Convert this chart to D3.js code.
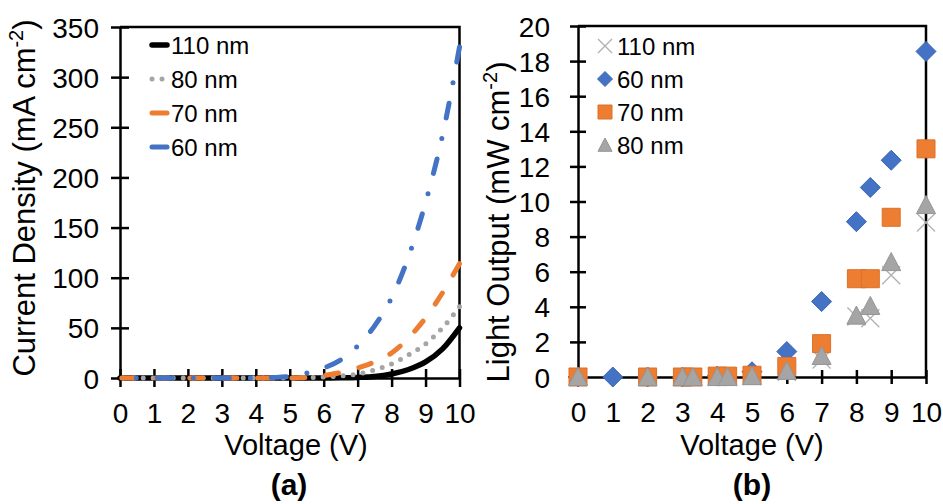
<!DOCTYPE html>
<html><head><meta charset="utf-8">
<script src="https://cdn.jsdelivr.net/npm/d3@7"></script>
<style>
body{margin:0;background:#fff}
svg{display:block}
text{font-family:"Liberation Sans",Arial,sans-serif;fill:#000}
</style>
</head><body>
<svg id="c" width="943" height="504"></svg>
<script>
// ---------- Data: (a) current density vs voltage ----------
const voltageA = [0,0.5,1,1.5,2,2.5,3,3.5,4,4.5,5,5.5,6,6.5,7,7.5,8,8.5,9,9.5,10];
const j110 = [0,0,0,0,0,0,0,0,0,0,0,0,0,0.2,0.6,1.5,4,8.5,16,29,50];
const j80  = [0,0,0,0,0,0,0,0,0,0,0,0.3,1,2,3.8,8,14,23,34,50,71];
const j70  = [0,0,0,0,0,0,0,0,0,0,0,0.5,2.5,5.5,10,16,25,40,60,85,114];
const j60  = [0,0,0,0,0,0,0,0,0.1,0.5,1.5,5,10,18,32,52,80,121,175,242,330];
const seriesNamesA = ["110 nm","80 nm","70 nm","60 nm"];
const xTicksA = [0,1,2,3,4,5,6,7,8,9,10];
const yTicksA = [0,50,100,150,200,250,300,350];

// ---------- Data: (b) light output vs voltage ----------
const v110 = [0,2,3,3.3,4,4.3,5,6,7,8,8.4,9,10];
const l110 = [0,0,0,0,0,0,0.05,0.3,1.0,3.45,3.35,5.8,8.8];
const v60  = [0,1,2,3,4,5,6,7,8,8.4,9,10];
const l60  = [0,0,0,0,0.05,0.3,1.45,4.3,8.85,10.8,12.35,18.55];
const v70  = [0,2,3,3.3,4,4.3,5,6,7,8,8.4,9,10];
const l70  = [0,0,0,0,0.05,0.05,0.1,0.6,1.9,5.6,5.6,9.1,13.0];
const v80  = [0,2,3,3.3,4,4.3,5,6,7,8,8.4,9,10];
const l80  = [0,0,0,0,0,0,0.05,0.35,1.2,3.5,4.05,6.55,9.8];
const seriesNamesB = ["110 nm","60 nm","70 nm","80 nm"];
const xTicksB = [0,1,2,3,4,5,6,7,8,9,10];
const yTicksB = [0,2,4,6,8,10,12,14,16,18,20];

const svg = d3.select("#c");
svg.append("rect").attr("width",943).attr("height",504).attr("fill","#fff");

const FONT_TICK = 28, FONT_TITLE = 29, FONT_YTITLE = 31, FONT_LEG = 24;

function styleAxis(g, orient){
  g.select(".domain").attr("stroke","#000").attr("stroke-width",2.5);
  g.selectAll(".tick line").attr("stroke","#000").attr("stroke-width",2.5);
  if(orient==="left") g.selectAll(".tick line").attr("x1",9).attr("x2",-9);
  else g.selectAll(".tick line").attr("y1",-9).attr("y2",9);
  g.selectAll(".tick text").attr("font-size",FONT_TICK).attr("font-family","Liberation Sans, Arial, sans-serif").attr("fill","#000");
}

// ================= Chart (a) =================
const xA = d3.scaleLinear().domain([0,10]).range([120,459.5]);
const yA = d3.scaleLinear().domain([0,350]).range([378,27]);
const gA = svg.append("g");

gA.append("path").attr("d",`M${xA(0)},${yA(350)}H${xA(10)}V${yA(0)}`)
  .attr("fill","none").attr("stroke","#000").attr("stroke-width",2.5);

const axXA = gA.append("g").attr("transform",`translate(0,${yA(0)})`)
  .call(d3.axisBottom(xA).tickValues(xTicksA).tickSize(9).tickSizeOuter(0).tickFormat(d3.format("d")));
styleAxis(axXA,"bottom");
axXA.selectAll(".tick text").attr("y",45).attr("dy",null);

const axYA = gA.append("g").attr("transform",`translate(${xA(0)},0)`)
  .call(d3.axisLeft(yA).tickValues(yTicksA).tickSize(9).tickSizeOuter(0).tickFormat(d3.format("d")));
styleAxis(axYA,"left");
axYA.selectAll(".tick text").attr("x",-21).attr("dy","0.36em");

const lineA = d3.line().x(d=>xA(d[0])).y(d=>yA(d[1])).curve(d3.curveMonotoneX);
const stylesA = [
  {data:j110, color:"#000000", w:5.5, dash:null},
  {data:j80,  color:"#a5a5a5", w:5,   dash:"0,10"},
  {data:j70,  color:"#ed7d31", w:5,   dash:"13,21"},
  {data:j60,  color:"#4472c4", w:5,   dash:"15,21,0,21"}
];
stylesA.forEach(s=>{
  // drawn from the high-voltage end so the dash pattern starts at V = 10
  const pts = voltageA.map((v,i)=>[v,s.data[i]]).reverse();
  gA.append("path").datum(pts)
    .attr("d",lineA).attr("fill","none").attr("stroke",s.color)
    .attr("stroke-width",s.w).attr("stroke-linecap","round")
    .attr("stroke-dasharray",s.dash);
});

// legend (a)
const legAy = [45,79,113,147];
seriesNamesA.forEach((n,i)=>{
  const s = stylesA[i], y = legAy[i];
  if(i===1){
    [152,162].forEach(cx=>gA.append("circle").attr("cx",cx).attr("cy",y).attr("r",2.5).attr("fill","#a5a5a5"));
  } else {
    gA.append("line").attr("x1",152).attr("x2",167).attr("y1",y).attr("y2",y)
      .attr("stroke",s.color).attr("stroke-width",s.w).attr("stroke-linecap","round");
  }
  gA.append("text").attr("x",171).attr("y",y).attr("dy","0.36em").attr("font-size",FONT_LEG).text(n);
});

// titles (a)
gA.append("text").attr("x",296).attr("y",455).attr("text-anchor","middle").attr("font-size",FONT_TITLE).text("Voltage (V)");
const ytA = gA.append("text").attr("transform","translate(35,198) rotate(-90)").attr("text-anchor","middle").attr("font-size",FONT_YTITLE);
ytA.append("tspan").text("Current Density (mA cm");
ytA.append("tspan").attr("dy",-12).attr("font-size",20).text("-2");
ytA.append("tspan").attr("dy",12).text(")");
gA.append("text").attr("x",289).attr("y",495).attr("text-anchor","middle").attr("font-size",30).attr("font-weight","bold").text("(a)");

// ================= Chart (b) =================
const xB = d3.scaleLinear().domain([0,10]).range([578,926]);
const yB = d3.scaleLinear().domain([0,20]).range([377,26]);
const gB = svg.append("g");

gB.append("path").attr("d",`M${xB(0)},${yB(20)}H${xB(10)}V${yB(0)}`)
  .attr("fill","none").attr("stroke","#000").attr("stroke-width",2.5);

const axXB = gB.append("g").attr("transform",`translate(0,${yB(0)})`)
  .call(d3.axisBottom(xB).tickValues(xTicksB).tickSize(9).tickSizeOuter(0).tickFormat(d3.format("d")));
styleAxis(axXB,"bottom");
axXB.selectAll(".tick line").attr("y1",-7).attr("y2",7);
axXB.selectAll(".tick text").attr("y",45).attr("dy",null);

const axYB = gB.append("g").attr("transform",`translate(${xB(0)},0)`)
  .call(d3.axisLeft(yB).tickValues(yTicksB).tickSize(9).tickSizeOuter(0).tickFormat(d3.format("d")));
styleAxis(axYB,"left");
axYB.selectAll(".tick line").attr("x1",8).attr("x2",-8);
axYB.selectAll(".tick text").attr("x",-28).attr("dy","0.36em");

function markerPath(type, r){
  if(type==="cross") return `M${-r},${-r}L${r},${r}M${r},${-r}L${-r},${r}`;
  if(type==="diamond") return `M0,${-r}L${r},0L0,${r}L${-r},0Z`;
  if(type==="square") return `M${-r},${-r}H${r}V${r}H${-r}Z`;
  if(type==="triangle") return `M0,${-r}L${r},${r*0.9}L${-r},${r*0.9}Z`;
}
const stylesB = [
  {vx:v110, vy:l110, type:"cross",    fill:"none",    stroke:"#b0b0b0", sw:1.3, r:9},
  {vx:v60,  vy:l60,  type:"diamond",  fill:"#4472c4", stroke:"#3a66b5", sw:1,   r:10},
  {vx:v70,  vy:l70,  type:"square",   fill:"#ed7d31", stroke:"#dc7029", sw:1,   r:9},
  {vx:v80,  vy:l80,  type:"triangle", fill:"#a5a5a5", stroke:"#959595", sw:1,   r:9.5}
];
stylesB.forEach(s=>{
  gB.append("g").selectAll("path").data(s.vx.map((v,i)=>[v,s.vy[i]])).join("path")
    .attr("transform",d=>`translate(${xB(d[0])},${yB(d[1])})`)
    .attr("d",markerPath(s.type,s.r)).attr("fill",s.fill)
    .attr("stroke",s.stroke).attr("stroke-width",s.sw);
});

// legend (b)
const legBy = [46,79,112,145];
seriesNamesB.forEach((n,i)=>{
  const s = stylesB[i], y = legBy[i];
  gB.append("path").attr("transform",`translate(605,${y})`)
    .attr("d",markerPath(s.type, s.type==="diamond"?7.5:7)).attr("fill",s.fill)
    .attr("stroke",s.stroke).attr("stroke-width",s.sw);
  gB.append("text").attr("x",617).attr("y",y).attr("dy","0.36em").attr("font-size",FONT_LEG).text(n);
});

gB.append("text").attr("x",752).attr("y",455).attr("text-anchor","middle").attr("font-size",FONT_TITLE).text("Voltage (V)");
const ytB = gB.append("text").attr("transform","translate(509,222) rotate(-90)").attr("text-anchor","middle").attr("font-size",FONT_YTITLE);
ytB.append("tspan").text("Light Output (mW cm");
ytB.append("tspan").attr("dy",-12).attr("font-size",20).text("-2");
ytB.append("tspan").attr("dy",12).text(")");
gB.append("text").attr("x",752).attr("y",495).attr("text-anchor","middle").attr("font-size",30).attr("font-weight","bold").text("(b)");
</script>
</body></html>
